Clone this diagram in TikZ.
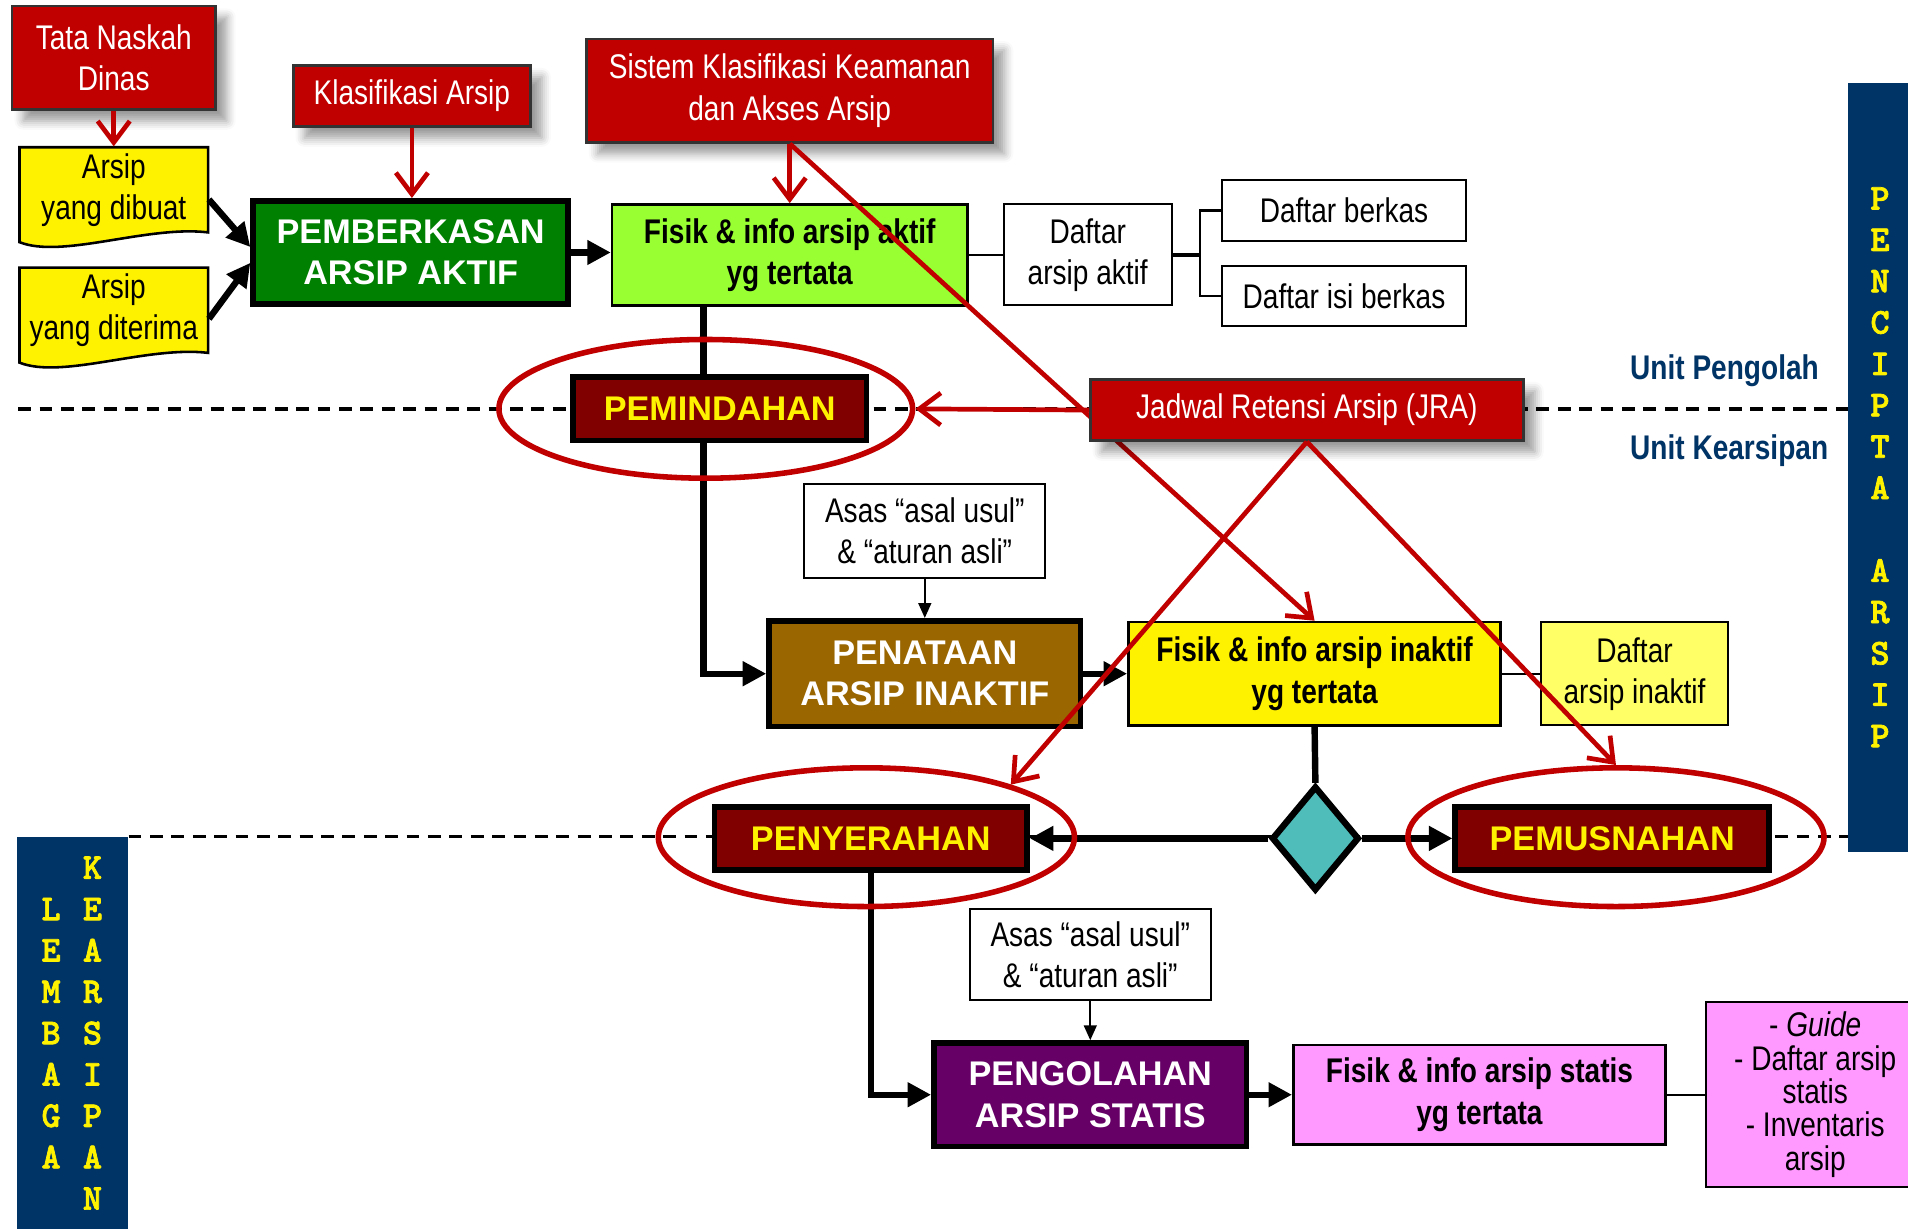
\documentclass[tikz,border=0pt]{standalone}
\usepackage{fontspec}
\setmainfont{Liberation Sans}[FakeStretch=0.82]
\newfontfamily\widefont{Liberation Sans}
\newfontfamily\letterfont{lmmonolt10-bold.otf}[FakeBold=2]
\usetikzlibrary{arrows.meta, positioning, shapes.geometric}
\usetikzlibrary{shadows.blur}

\definecolor{rulered}{HTML}{C00000}
\definecolor{darkmaroon}{HTML}{800000}
\definecolor{leafgreen}{HTML}{008000}
\definecolor{limegreen}{HTML}{99FF33}
\definecolor{mudbrown}{HTML}{996600}
\definecolor{paleyellow}{HTML}{FFFF66}
\definecolor{tealish}{HTML}{4FBDBA}
\definecolor{plumpurple}{HTML}{660066}
\definecolor{pinkish}{HTML}{FF99FF}
\definecolor{navyband}{HTML}{003366}

\tikzset{
    %Define standard arrow tip
    >={Triangle[length=5.5pt,width=5.5pt]},
}

\begin{document}
\begin{tikzpicture}[x=0.1mm, y=-0.1mm]
    \tikzset{
      txt/.style={align=center, inner sep=0pt,
                  font=\fontsize{8}{9.6}\selectfont},
      regbox/.style={txt, draw=black!80, line width=0.6pt,
                     fill=rulered, text=white},
      shd/.style={blur shadow={shadow blur steps=5}},
      procbox/.style={txt, draw, line width=1.3pt, text=white,
                      font=\widefont\bfseries\fontsize{8}{9.6}\selectfont},
      outbox/.style={txt, draw, line width=0.6pt,
                     font=\bfseries\fontsize{8}{9.6}\selectfont},
      listbox/.style={txt, draw, line width=0.5pt, fill=white},
      docpaper/.style={draw, line width=0.6pt, fill=yellow},
      ring/.style={ellipse, draw=rulered, line width=1.3pt, inner sep=0pt},
      band/.style={fill=navyband, inner sep=0pt},
      bandtext/.style={align=center, inner sep=0pt, text=yellow,
                       font=\letterfont\fontsize{8.5}{9.67}\selectfont},
      unitlabel/.style={inner sep=0pt, text=navyband,
                        font=\bfseries\fontsize{8}{9.6}\selectfont},
      divider/.style={dash pattern=on 3pt off 2pt, line width=0.8pt},
      flow/.style={line width=1.5pt, ->},
      link/.style={line width=0.5pt},
      hint/.style={line width=0.5pt, -{Triangle[length=3.5pt,width=3pt]}},
      rule/.style={draw=rulered, line width=1.1pt,
                   -{Straight Barb[length=5pt,width=7.5pt]}},
    }
    \useasboundingbox (0,0) rectangle (1568,1010);

    % side bands
    \node[band, bandtext, minimum width=5.2mm, minimum height=63.2mm] (pencipta) at (1545,384)
        {P\\E\\N\\C\\I\\P\\T\\A\\[3.4mm]A\\R\\S\\I\\P};
    \node[band, minimum width=9.1mm, minimum height=32.2mm] (lembaga) at (59.5,849) {};
    \node[bandtext] (lembagatext) at (42,849) {L\\E\\M\\B\\A\\G\\A};
    \node[bandtext] (kearsipantext) at (76,849) {K\\E\\A\\R\\S\\I\\P\\A\\N};

    \coordinate (upperleft) at (15,336);
    \draw[divider] (upperleft) -- (upperleft -| pencipta.west);
    \draw[divider] (lembaga.north east) -- (lembaga.north east -| pencipta.west);

    \node[unitlabel, anchor=west] (pengolah) at (1339,305) {Unit Pengolah};
    \node[unitlabel, anchor=west] (kearsipan) at (1339,370) {Unit Kearsipan};

    % arsip aktif
    \node[regbox, shd, minimum width=16.7mm, minimum height=8.5mm] (tata) at (93.5,47.5) {Tata Naskah\\Dinas};
    \node[regbox, shd, minimum width=19.5mm, minimum height=5mm] (klas) at (338.5,79) {Klasifikasi Arsip};
    \node[regbox, shd, minimum width=33.4mm, minimum height=8.5mm] (sistem) at (649,74.5)
        {Sistem Klasifikasi Keamanan\\dan Akses Arsip};

    % paper sheets with a wavy lower edge
    \foreach \top in {121,220}
      \draw[docpaper] (16,\top) -- ++(155,0) -- ++(0,70)
          .. controls +(-50,-6) and +(35,14) .. (16,\top+78) -- cycle;
    \node[txt, minimum width=15.5mm, minimum height=7mm] (dibuat) at (93.5,156) {Arsip\\yang dibuat};
    \node[txt, minimum width=15.5mm, minimum height=7mm] (diterima) at (93.5,255) {Arsip\\yang diterima};

    \node[procbox, fill=leafgreen, minimum width=25.9mm, minimum height=8.5mm] (pemb) at (337.5,207.5)
        {PEMBERKASAN\\ARSIP AKTIF};
    \node[outbox, fill=limegreen, minimum width=29.2mm, minimum height=8.3mm] (fisikaktif) at (649,209.5)
        {Fisik \& info arsip aktif\\yg tertata};
    \node[listbox, minimum width=13.8mm, minimum height=8.3mm, right=2.8mm of fisikaktif] (daftaraktif)
        {Daftar\\arsip aktif};
    \node[listbox, minimum width=20.1mm, minimum height=5mm] (berkas) at (1104.5,173) {Daftar berkas};
    \node[listbox, minimum width=20.1mm, minimum height=4.9mm, below=1.9mm of berkas] (isiberkas)
        {Daftar isi berkas};

    % arsip inaktif
    \node[listbox, minimum width=19.8mm, minimum height=7.7mm] (asas1) at (760,436.5)
        {Asas “asal usul”\\\& “aturan asli”};
    \node[procbox, fill=mudbrown, minimum width=25.6mm, minimum height=8.7mm, below=3.2mm of asas1] (penataan)
        {PENATAAN\\ARSIP INAKTIF};
    \node[outbox, fill=yellow, minimum width=30.6mm, minimum height=8.5mm, right=3.6mm of penataan] (fisikinaktif)
        {Fisik \& info arsip inaktif\\yg tertata};
    \node[listbox, fill=paleyellow, minimum width=15.4mm, minimum height=8.5mm, right=3.1mm of fisikinaktif]
        (daftarinaktif) {Daftar\\arsip inaktif};

    % runs behind PEMINDAHAN
    \draw[flow] ([xshift=-7.1mm]fisikaktif.south) |- (penataan.west);
    \node[procbox, fill=darkmaroon, text=yellow, minimum width=24.1mm, minimum height=5.2mm] (pemindahan)
        at (591.5,336) {PEMINDAHAN};

    \node[diamond, draw, line width=1.5pt, fill=tealish, inner sep=0pt, aspect=0.84,
          minimum width=7.2mm, minimum height=8.6mm] (keputusan) at (1081,689) {};
    \node[procbox, fill=darkmaroon, text=yellow, minimum width=25.7mm, minimum height=5.2mm,
          left=19.6mm of keputusan] (penyerahan) {PENYERAHAN};
    \node[procbox, fill=darkmaroon, text=yellow, minimum width=25.8mm, minimum height=5.2mm,
          right=7.4mm of keputusan] (pemusnahan) {PEMUSNAHAN};

    % arsip statis
    \node[listbox, minimum width=19.8mm, minimum height=7.5mm] (asas2) at (896,784.5)
        {Asas “asal usul”\\\& “aturan asli”};
    \node[procbox, fill=plumpurple, minimum width=25.7mm, minimum height=8.5mm, below=3.2mm of asas2] (pengolahan)
        {PENGOLAHAN\\ARSIP STATIS};
    \node[outbox, fill=pinkish, minimum width=30.6mm, minimum height=8.2mm, right=3.5mm of pengolahan] (fisikstatis)
        {Fisik \& info arsip statis\\yg tertata};
    \node[listbox, fill=pinkish, minimum width=18mm, minimum height=15.2mm, right=3.1mm of fisikstatis,
          font=\fontsize{8}{7.8}\selectfont] (guide)
        {- \textit{Guide}\\- Daftar arsip\\statis\\- Inventaris\\arsip};

    \draw[flow] ([yshift=-0.8mm]dibuat.east) -- ([yshift=0.45mm]pemb.west);
    \draw[flow] ([yshift=-0.7mm]diterima.east) -- ([yshift=-0.85mm]pemb.west);
    \draw[flow] (pemb.east) -- (pemb.east -| fisikaktif.west);
    \draw[link] (fisikaktif) -- (daftaraktif);
    \draw[line width=1pt] (daftaraktif.east) -- ++(22,0) coordinate (fork);
    \draw[link] (berkas.west) -| (fork) |- (isiberkas.west);

    \draw[hint] (asas1) -- (penataan);
    \draw[flow] (penataan) -- (fisikinaktif);
    \draw[link] (fisikinaktif) -- (daftarinaktif);
    \draw[line width=1.5pt] (fisikinaktif.south) -- (keputusan.north);
    \draw[flow] (keputusan) -- (penyerahan);
    \draw[flow] (keputusan) -- (pemusnahan);
    \draw[flow] (penyerahan.south) |- (pengolahan.west);
    \draw[hint] (asas2) -- (pengolahan);
    \draw[flow] (pengolahan) -- (fisikstatis);
    \draw[link] (fisikstatis) -- (guide);

    % red rings round the transfer steps
    \node[ring, minimum width=34mm, minimum height=11.4mm] (pemindahanring) at (580,336) {};
    \node[ring, minimum width=34.2mm, minimum height=11.4mm] (penyerahanring) at (712,688) {};
    \node[ring, minimum width=34.2mm, minimum height=11.4mm] (pemusnahanring) at (1328,688) {};

    \draw[rule] (tata) -- (dibuat);
    \draw[rule] (klas.south) -- (klas.south |- pemb.north);
    \draw[rule] (sistem.south) -- (fisikaktif.north);
    \draw[rule] (sistem.south) -- (fisikinaktif.north);

    \node[regbox, shd, minimum width=35.6mm, minimum height=5mm] (jra) at (1074,337)
        {Jadwal Retensi Arsip (JRA)};
    \draw[rule] (jra.west) -- (pemindahanring.east);
    \draw[rule] (jra.south) -- (penyerahanring.20);
    \draw[rule] (jra.south) -- (pemusnahanring.north);
\end{tikzpicture}
\end{document}
